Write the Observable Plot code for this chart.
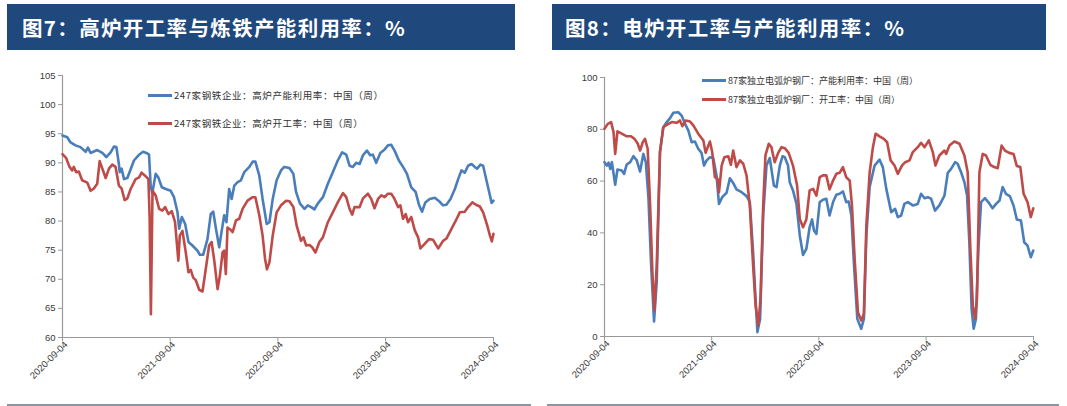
<!DOCTYPE html>
<html>
<head>
<meta charset="utf-8">
<script src="https://cdn.jsdelivr.net/npm/d3@7"></script>
<script src="https://cdn.jsdelivr.net/npm/@observablehq/plot@0.6"></script>
<style>
  html, body { margin:0; padding:0; background:#fff; width:1067px; height:406px; overflow:hidden; }
  .panel { position:absolute; top:0; height:406px; }
  .hdr { position:absolute; top:4px; height:46px; background:#1F497D; color:#fff;
         font-family:"Noto Sans CJK SC", sans-serif; font-weight:bold; font-size:20.5px;
         line-height:46px; letter-spacing:1.35px; white-space:nowrap; box-sizing:border-box; }
  .chart { position:absolute; top:55px; }
  .legend { position:absolute; font-family:"Noto Sans CJK SC", sans-serif; color:#333; white-space:nowrap; }
  .legend .row { display:flex; align-items:center; position:absolute; left:0; }
  .legend .sw { display:inline-block; width:24px; height:3px; margin-right:2px; }
  .baseline { position:absolute; top:404px; height:2px; background:#8a96a3; }
  g[aria-label$="tick label"] { fill:#3a3a3a; }
  g[aria-label="x-axis tick label"] { transform: translate(4px, 6px); }
  g[aria-label$="-axis tick"] { stroke:#999; }
</style>
</head>
<body>
<div id="root"></div>
<script>
// ---------- Data (weeks since 2020-09-04, values in %) ----------
const bfUtilWeeks = [0,2.3,3.9,6.3,8.7,11.2,12.3,13.6,16.8,19.3,21.2,23.3,24.9,26.1,27.3,27.7,28.6,29.8,31.4,34.6,37.1,39.0,40.6,41.9,42.7,43.5,45.1,46.4,48.1,50.0,52.4,54.0,55.7,56.5,57.8,59.4,61.0,62.9,65.4,66.5,68.1,70.2,71.8,73.0,74.3,75.9,77.0,78.3,79.4,80.7,81.9,83.2,84.8,86.4,88.0,90.5,92.1,93.4,95.3,96.9,98.9,100.2,101.8,103.7,105.8,107.4,109.9,111.8,113.1,115.0,117.2,118.8,120.4,122.0,123.6,126.1,128.5,130.9,133.3,135.4,137.4,139.0,140.6,142.2,143.9,145.5,147.4,149.0,150.3,151.9,153.9,156.0,157.6,159.2,160.8,162.9,164.9,166.8,168.9,171.0,172.7,174.1,175.7,177.8,180.3,182.4,184.3,185.9,187.9,190.0,191.6,193.2,194.8,196.4,198.1,199.7,200.8,202.4,203.7,205.3,207.0,207.8,208.7];
const bfUtilValues = [94.7,94.4,93.5,93.0,92.7,91.9,92.6,91.7,92.2,91.7,91.0,91.8,92.8,92.7,89.8,88.4,89.0,87.2,87.4,90.4,91.4,91.9,91.7,91.4,86.0,84.8,88.1,87.5,85.8,85.5,85.2,84.1,81.5,78.7,80.7,79.5,76.4,75.8,74.9,74.2,74.2,76.9,81.2,81.6,78.7,75.5,78.1,81.0,79.8,85.5,83.8,86.1,86.7,87.0,88.4,89.3,90.2,90.2,87.8,83.8,79.5,79.8,83.8,87.0,88.7,89.3,89.1,88.1,85.0,83.0,82.1,82.7,82.4,82.0,83.0,84.1,86.4,88.4,90.4,91.8,91.4,89.5,89.3,90.0,89.8,91.3,92.1,91.3,91.4,90.0,91.7,92.3,93.0,93.1,92.1,90.4,89.3,88.1,85.8,85.0,82.7,81.6,83.2,83.8,84.0,83.4,82.7,82.8,83.8,85.5,87.2,88.7,88.3,89.5,89.8,89.3,89.0,89.7,89.5,87.0,84.4,83.1,83.5];

const bfRateWeeks = [0,1.8,3.4,4.7,5.5,6.6,7.9,9.5,12.0,13.6,15.2,16.8,18.0,19.3,20.9,22.5,24.1,25.7,27.3,28.6,30.1,31.4,33.0,35.4,37.1,38.3,40.0,41.6,42.2,42.8,43.6,45.1,46.8,48.4,49.7,51.3,52.9,54.5,56.1,56.8,58.1,59.7,61.0,62.1,63.3,64.6,66.2,67.8,69.4,71.0,72.2,73.5,75.1,76.2,77.5,78.3,79.1,79.9,81.1,82.4,84.0,85.6,87.2,89.6,92.1,93.4,95.3,96.9,98.1,99.0,100.2,101.8,103.7,105.8,108.3,109.9,111.8,113.4,115.5,116.7,118.0,119.6,120.9,122.5,124.4,126.1,128.5,130.9,133.3,135.8,137.4,139.0,140.3,141.4,143.9,145.5,147.9,149.5,151.1,152.8,154.4,156.0,157.6,159.2,160.8,162.5,163.6,164.9,166.2,167.3,168.9,170.6,172.2,173.3,175.4,177.5,179.4,181.9,184.3,185.9,188.3,190.5,192.4,194.8,196.4,198.5,200.2,202.1,203.7,205.7,207.0,207.9,208.7];
const bfRateValues = [91.5,90.8,89.3,88.7,89.3,88.4,88.5,87.0,86.6,85.2,85.6,86.4,90.3,89.0,87.4,89.0,89.7,89.3,86.1,85.6,83.6,83.9,85.5,87.2,87.5,88.3,87.8,87.2,80.5,64.0,85.2,84.4,82.1,81.8,82.4,81.2,81.7,79.8,73.2,77.5,78.3,74.6,71.2,71.6,70.3,69.8,68.2,67.9,71.8,75.8,76.4,73.2,68.3,70.6,74.6,74.9,70.9,78.9,78.6,78.1,80.1,80.4,82.1,83.5,84.1,84.1,81.0,77.5,73.5,71.7,72.9,77.5,81.5,82.7,83.5,83.4,82.4,79.2,76.6,77.2,75.8,75.9,75.5,74.6,76.4,77.2,79.8,81.5,83.2,84.8,84.1,82.1,81.1,82.4,82.4,83.9,84.7,83.8,82.2,83.8,84.4,84.1,84.7,84.7,83.8,82.4,82.7,80.4,81.2,79.8,80.7,78.4,77.2,75.3,76.1,76.9,76.8,75.3,76.6,77.0,78.6,80.1,81.5,81.6,82.4,83.2,82.8,82.5,81.5,79.2,77.5,76.5,77.8];

const eafUtilWeeks = [0,1.1,2.0,2.8,3.6,5.2,6.3,8.4,9.5,10.8,12.5,14.1,15.7,17.3,18.9,20.1,21.4,22.7,24.1,25.4,27.0,28.6,30.3,31.9,33.5,35.9,37.5,39.2,40.8,42.4,44.0,45.6,47.2,48.4,49.7,51.3,52.9,54.5,55.7,57.3,59.4,61.0,62.6,64.2,66.7,69.1,70.7,72.3,73.5,74.4,75.7,77.2,78.8,80.4,82.4,83.7,85.3,86.6,87.7,89.3,90.1,91.7,93.4,95.0,96.6,98.2,99.8,101.0,101.9,103.1,104.7,106.3,107.9,109.5,111.2,112.8,114.4,116.0,117.6,118.8,120.1,121.4,123.0,124.9,126.2,127.4,129.0,131.4,133.8,135.4,137.1,139.5,141.4,142.7,144.3,145.9,147.6,150.0,152.4,154.0,155.7,157.3,158.9,160.8,162.9,165.4,167.0,168.6,170.6,171.8,173.5,175.1,176.4,177.5,178.6,179.6,180.7,181.9,183.2,185.1,186.7,188.8,190.5,192.2,193.7,195.3,197.2,199.0,200.6,202.6,204.2,205.8,207.4,208.6];
const eafUtilValues = [67.3,66.0,67.1,64.7,67.3,58.6,64.5,64.1,62.8,66.4,67.3,69.6,68.0,63.7,70.5,67.3,53.2,27.4,5.8,21.0,71.2,80.8,82.8,84.3,86.4,86.6,85.3,82.1,79.5,75.0,75.3,72.5,70.9,66.0,68.0,69.2,68.9,62.2,51.2,53.8,55.5,61.1,59.3,56.8,55.7,54.2,51.9,32.6,14.5,1.7,6.8,46.7,66.0,68.9,58.3,57.7,66.0,69.6,69.2,66.0,59.6,56.4,51.2,39.0,31.5,33.8,42.2,45.2,40.9,39.6,51.9,52.8,53.2,46.7,51.9,54.7,55.1,56.0,51.9,52.1,46.7,27.4,6.8,3.0,6.8,39.0,57.7,66.0,68.3,65.4,57.0,48.0,49.3,46.1,46.7,51.2,51.9,50.6,51.2,55.1,53.4,53.8,53.2,48.6,50.6,54.4,63.2,64.7,67.3,66.7,63.4,59.6,54.4,36.4,10.7,3.0,6.8,33.8,51.9,53.4,51.9,49.5,51.2,52.5,57.7,55.1,54.2,50.6,45.2,44.8,36.4,35.1,30.6,33.2];

const eafRateWeeks = [0,1.6,3.2,4.4,5.2,6.3,8.4,10.8,12.9,14.6,16.2,17.3,18.6,19.7,21.0,22.2,23.3,24.3,25.4,27.0,28.6,30.3,32.7,35.1,36.7,37.9,39.5,41.6,43.2,45.6,48.1,49.2,50.5,51.3,52.4,53.7,55.0,55.7,57.0,58.3,60.2,61.5,62.6,64.2,65.9,67.5,69.1,70.7,72.3,73.5,74.8,75.9,77.2,78.3,79.9,81.2,82.8,84.5,86.1,87.7,89.6,91.7,93.7,95.0,96.6,98.2,99.8,101.5,103.1,104.7,106.3,107.9,109.5,111.2,112.8,114.4,116.0,117.6,119.3,120.4,121.7,123.3,124.9,126.2,127.4,129.0,130.6,131.9,133.8,135.9,137.5,139.2,141.1,142.7,144.7,146.3,148.4,150.0,152.4,154.0,155.7,157.8,159.7,161.0,162.9,165.4,166.2,167.8,170.2,172.7,175.1,176.7,178.0,179.2,180.3,181.2,182.4,184.0,185.6,187.7,189.6,191.3,193.2,194.8,196.9,199.0,200.6,202.3,203.9,205.8,207.4,208.6];
const eafRateValues = [80.2,82.1,82.8,78.9,70.5,79.2,78.3,77.3,77.3,76.3,74.4,71.8,75.0,76.3,72.5,50.6,24.8,10.0,27.4,71.4,80.8,81.7,82.8,82.5,83.4,81.2,83.4,83.0,81.5,78.3,75.7,70.9,73.7,75.3,71.2,61.5,60.9,55.7,66.0,69.2,69.6,66.3,71.8,65.4,68.0,66.7,62.2,50.6,27.4,12.0,4.2,14.5,50.6,69.9,74.4,73.1,67.3,70.9,73.1,72.7,70.9,66.0,58.3,45.4,42.2,45.2,56.4,57.0,54.4,61.5,62.2,62.2,56.8,60.2,62.8,63.2,65.4,61.5,60.2,50.6,30.0,9.4,6.2,8.8,42.9,63.4,73.1,78.3,77.3,76.3,75.0,68.0,66.0,62.8,66.0,67.3,68.0,71.2,73.1,74.8,73.1,75.7,71.2,66.0,69.9,71.8,70.5,73.7,75.3,74.4,69.9,63.4,33.8,12.0,6.8,14.5,63.4,70.5,69.9,66.3,65.4,65.0,73.7,71.8,70.9,70.5,65.8,65.4,55.1,51.9,46.1,49.5];

const xTickLabels = ["2020-09-04","2021-09-04","2022-09-04","2023-09-04","2024-09-04"];
const bfYTicks = [60,65,70,75,80,85,90,95,100,105];
const eafYTicks = [0,20,40,60,80,100];

const titles = ["图7：高炉开工率与炼铁产能利用率：%", "图8：电炉开工率与产能利用率：%"];
const bfLegend = ["247家钢铁企业：高炉产能利用率：中国（周）", "247家钢铁企业：高炉开工率：中国（周）"];
const eafLegend = ["87家独立电弧炉钢厂：产能利用率：中国（周）", "87家独立电弧炉钢厂：开工率：中国（周）"];

const BLUE = "#4A7EBB", RED = "#BE4B48";

// ---------- helpers ----------
const start = new Date(Date.UTC(2020, 8, 4));
const end = new Date(Date.UTC(2024, 8, 4));
const toDate = w => new Date(start.getTime() + Math.round(w * 7 * 864e5));
const series = (weeks, vals) => weeks.map((w, i) => ({date: toDate(w), value: vals[i]}));
const xTicks = xTickLabels.map(s => new Date(s + "T00:00:00Z"));

function chart(opts) {
  return Plot.plot({
    width: opts.width, height: 350,
    marginLeft: opts.ml, marginRight: opts.mr, marginTop: opts.mt, marginBottom: opts.mb,
    style: {fontFamily: "'Liberation Sans', Arial, sans-serif", fontSize: "9.5px", color: "#999", background: "transparent", overflow: "visible"},
    x: {type: "utc", domain: [start, end], ticks: xTicks, tickFormat: d3.utcFormat("%Y-%m-%d"),
        tickRotate: -45, tickSize: 4, tickPadding: 3, label: null},
    y: {domain: opts.ydomain, ticks: opts.yticks, tickSize: 4, tickPadding: 3, label: null},
    marks: [
      Plot.ruleY([opts.ydomain[0]], {stroke: "#999", strokeWidth: 1.2}),
      Plot.ruleX([start], {stroke: "#999", strokeWidth: 1.2}),
      Plot.line(opts.util, {x: "date", y: "value", stroke: BLUE, strokeWidth: 2.6, curve: "linear"}),
      Plot.line(opts.rate, {x: "date", y: "value", stroke: RED, strokeWidth: 2.6, curve: "linear"})
    ]
  });
}

function panel(cfg) {
  const p = document.createElement("div");
  p.className = "panel";
  p.style.left = cfg.left + "px";
  p.style.width = cfg.width + "px";
  const h = document.createElement("div");
  h.className = "hdr";
  h.style.left = cfg.hdrLeft + "px";
  h.style.width = cfg.hdrWidth + "px";
  h.style.paddingLeft = cfg.hdrPad + "px";
  h.textContent = cfg.title;
  p.appendChild(h);
  const c = document.createElement("div");
  c.className = "chart";
  c.style.left = "0px";
  c.appendChild(cfg.svg);
  p.appendChild(c);
  const lg = document.createElement("div");
  lg.className = "legend";
  lg.style.left = cfg.lgLeft + "px";
  lg.style.top = cfg.lgTop + "px";
  lg.style.fontSize = cfg.lgFont + "px";
  cfg.legend.forEach((t, i) => {
    const r = document.createElement("div");
    r.className = "row";
    r.style.top = (i * cfg.lgGap) + "px";
    const sw = document.createElement("span");
    sw.className = "sw";
    sw.style.background = i === 0 ? BLUE : RED;
    const tx = document.createElement("span");
    tx.textContent = t;
    tx.style.letterSpacing = cfg.lgSpacing + "px";
    r.appendChild(sw); r.appendChild(tx);
    lg.appendChild(r);
  });
  p.appendChild(lg);
  const b = document.createElement("div");
  b.className = "baseline";
  b.style.left = cfg.baseLeft + "px";
  b.style.width = cfg.baseWidth + "px";
  p.appendChild(b);
  document.getElementById("root").appendChild(p);
}

const leftSvg = chart({
  width: 533, ml: 62, mr: 40, mt: 20, mb: 68,
  ydomain: [60, 105], yticks: bfYTicks,
  util: series(bfUtilWeeks, bfUtilValues), rate: series(bfRateWeeks, bfRateValues)
});
const rightSvg = chart({
  width: 527, ml: 64, mr: 34, mt: 22, mb: 69,
  ydomain: [0, 100], yticks: eafYTicks,
  util: series(eafUtilWeeks, eafUtilValues), rate: series(eafRateWeeks, eafRateValues)
});

panel({left: 0, width: 533, hdrLeft: 7, hdrWidth: 508, hdrPad: 15, title: titles[0], svg: leftSvg,
       legend: bfLegend, lgLeft: 148, lgTop: 88, lgGap: 28, lgFont: 9.5, lgSpacing: 0.6,
       baseLeft: 7, baseWidth: 524});
panel({left: 540, width: 527, hdrLeft: 12, hdrWidth: 494, hdrPad: 13, title: titles[1], svg: rightSvg,
       legend: eafLegend, lgLeft: 162, lgTop: 74, lgGap: 19, lgFont: 9, lgSpacing: 0,
       baseLeft: 7, baseWidth: 512});
</script>
</body>
</html>
